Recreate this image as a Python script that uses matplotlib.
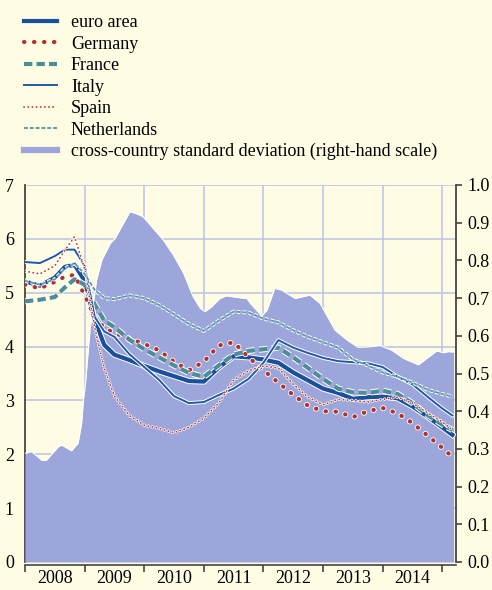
import matplotlib
matplotlib.use("Agg")
import matplotlib.pyplot as plt
import matplotlib.patheffects as pe
from matplotlib.lines import Line2D

# dates (decimal years) for the country yields
dates = [2008.0, 2008.25, 2008.5, 2008.67, 2008.83, 2009.0, 2009.17, 2009.33,
         2009.5, 2009.75, 2010.0, 2010.25, 2010.5, 2010.75, 2011.0, 2011.25,
         2011.5, 2011.75, 2012.0, 2012.25, 2012.5, 2012.75, 2013.0, 2013.25,
         2013.5, 2013.75, 2014.0, 2014.25, 2014.5, 2014.75, 2015.0, 2015.17]

euro_area = [5.21, 5.13, 5.28, 5.48, 5.52, 5.22, 4.49, 4.03,
             3.85, 3.75, 3.64, 3.54, 3.45, 3.36, 3.35, 3.61,
             3.82, 3.8, 3.76, 3.7, 3.52, 3.37, 3.22, 3.14,
             3.03, 3.06, 3.07, 3.04, 2.89, 2.7, 2.5, 2.36]
germany = [5.15, 5.08, 5.2, 5.3, 5.33, 4.95, 4.55, 4.35,
           4.25, 4.15, 4.05, 3.93, 3.72, 3.56, 3.72, 4.02,
           4.08, 3.8, 3.56, 3.33, 3.1, 2.9, 2.8, 2.79,
           2.69, 2.8, 2.86, 2.76, 2.58, 2.35, 2.12, 1.95]
france = [4.84, 4.87, 4.92, 5.1, 5.25, 5.15, 4.78, 4.48,
          4.36, 4.13, 3.95, 3.8, 3.65, 3.51, 3.44, 3.65,
          3.85, 3.92, 3.95, 3.98, 3.8, 3.6, 3.4, 3.22,
          3.15, 3.14, 3.18, 3.12, 2.95, 2.73, 2.55, 2.45]
italy = [5.57, 5.55, 5.68, 5.8, 5.8, 5.5, 4.55, 4.28,
         4.18, 3.86, 3.62, 3.38, 3.08, 2.95, 2.97, 3.1,
         3.22, 3.4, 3.7, 4.12, 3.98, 3.88, 3.79, 3.73,
         3.71, 3.69, 3.62, 3.44, 3.3, 3.07, 2.85, 2.72]
spain = [5.4, 5.35, 5.5, 5.79, 6.04, 5.44, 4.35, 3.6,
         3.08, 2.72, 2.54, 2.48, 2.4, 2.5, 2.67, 2.95,
         3.38, 3.55, 3.64, 3.6, 3.3, 3.06, 2.92, 3.02,
         3.0, 2.97, 3.02, 3.06, 2.95, 2.77, 2.6, 2.45]
netherlands = [5.22, 5.15, 5.25, 5.45, 5.55, 5.35, 5.05, 4.9,
               4.88, 4.95, 4.9, 4.77, 4.6, 4.42, 4.29, 4.48,
               4.65, 4.63, 4.52, 4.45, 4.3, 4.18, 4.08, 3.98,
               3.76, 3.65, 3.52, 3.44, 3.33, 3.2, 3.12, 3.07]

# cross-country standard deviation (right-hand scale)
sd_dates = [2008.0, 2008.11, 2008.28, 2008.36, 2008.56, 2008.62, 2008.78, 2008.89,
            2008.95, 2008.98, 2009.01, 2009.09, 2009.2, 2009.29, 2009.43, 2009.51,
            2009.65, 2009.76, 2009.85, 2009.98, 2010.15, 2010.32, 2010.49, 2010.66,
            2010.82, 2010.94, 2011.02, 2011.13, 2011.27, 2011.38, 2011.55, 2011.72,
            2011.78, 2011.97, 2012.06, 2012.19, 2012.31, 2012.53, 2012.78, 2012.95,
            2013.2, 2013.4, 2013.59, 2013.79, 2013.96, 2014.15, 2014.35, 2014.6,
            2014.74, 2014.91, 2015.02, 2015.1, 2015.19]
sd_values = [0.288, 0.293, 0.27, 0.27, 0.306, 0.31, 0.295, 0.315,
             0.368, 0.43, 0.465, 0.615, 0.748, 0.801, 0.845, 0.858,
             0.898, 0.929, 0.925, 0.916, 0.885, 0.854, 0.814, 0.766,
             0.704, 0.673, 0.664, 0.677, 0.699, 0.706, 0.702, 0.699,
             0.686, 0.653, 0.668, 0.726, 0.721, 0.699, 0.708, 0.686,
             0.615, 0.589, 0.569, 0.571, 0.574, 0.562, 0.54, 0.523,
             0.54, 0.56, 0.555, 0.558, 0.557]

years = [2008, 2009, 2010, 2011, 2012, 2013, 2014, 2015]
year_labels = ["2008", "2009", "2010", "2011", "2012", "2013", "2014"]

BG = "#fefde3"
FILL = "#9ca6da"
GRID = "#bcc2e8"
AXC = "#444444"

plt.rcParams["font.family"] = ["Liberation Serif", "DejaVu Serif"]
plt.rcParams["font.size"] = 13

fig = plt.figure(figsize=(4.92, 5.90), dpi=100, facecolor=BG)
pos = [25 / 492, 1 - 562 / 590, 431 / 492, 377 / 590]
ax = fig.add_axes(pos)
ax.set_facecolor(BG)

# grid on the base axes
ax.set_xlim(2008, 2015.23)
ax.set_ylim(0, 7)
for y in range(1, 8):
    ax.axhline(y, color=GRID, lw=1.1, zorder=0)
for yr in years[1:]:
    ax.axvline(yr, color=GRID, lw=1.1, zorder=0)

ax.set_yticks(range(0, 8))
ax.tick_params(axis="y", length=0, pad=8, colors="black")
ax.set_xticks(years)
ax.set_xticklabels([])
ax.set_xticks([y + 0.5 for y in years[:-1]], minor=True)
ax.set_xticklabels(year_labels, minor=True)
ax.tick_params(axis="x", which="major", direction="out", length=5, width=1.2, color=AXC)
ax.tick_params(axis="x", which="minor", length=0, pad=4)
for s in ["top", "right"]:
    ax.spines[s].set_visible(False)
ax.spines["left"].set_color(AXC)
ax.spines["left"].set_linewidth(1.3)
ax.spines["bottom"].set_color(AXC)
ax.spines["bottom"].set_linewidth(1.2)
ax.spines["bottom"].set_position(("outward", 2))

# standard deviation area on the right-hand scale
ax_sd = ax.twinx()
ax_sd.set_ylim(0, 1.0)
ax_sd.fill_between(sd_dates, sd_values, 0, color=FILL, lw=0)
ax_sd.plot(sd_dates, sd_values, color="white", lw=0.8)
ax_sd.set_yticks([i / 10 for i in range(11)])
ax_sd.set_yticklabels([f"{i / 10:.1f}" for i in range(11)])
ax_sd.tick_params(axis="y", direction="out", length=4, width=1.2, color=AXC, pad=4)
for s in ["top", "left", "bottom"]:
    ax_sd.spines[s].set_visible(False)
ax_sd.spines["right"].set_color(AXC)
ax_sd.spines["right"].set_linewidth(1.3)

# country lines on top
ax_ln = ax.twinx()
ax_ln.set_ylim(0, 7)
ax_ln.set_yticks([])
for s in ax_ln.spines.values():
    s.set_visible(False)


def halo(w):
    return [pe.Stroke(linewidth=w, foreground="white"), pe.Normal()]


series = [
    ("euro area", euro_area, dict(color="#1a4f9c", lw=3.0, ls="-"), 4.4),
    ("Germany", germany, dict(color="#b5302a", lw=3.0, ls=(0, (0.1, 2.3)),
                              dash_capstyle="round"), 4.2),
    ("France", france, dict(color="#4e8c98", lw=3.0, ls=(0, (2, 1))), 4.4),
    ("Italy", italy, dict(color="#2258a8", lw=1.4, ls="-"), 2.8),
    ("Spain", spain, dict(color="#c0392b", lw=1.3, ls=(0, (0.1, 2.2)),
                          dash_capstyle="round"), 2.4),
    ("Netherlands", netherlands, dict(color="#5c9ba8", lw=1.4, ls=(0, (2, 1))), 2.8),
]

handles = []
for name, vals, style, hw in series:
    ax_ln.plot(dates, vals, path_effects=halo(hw), **style)
    handles.append(Line2D([], [], **style))
handles.append(Line2D([], [], color=FILL, lw=4.5))
labels = [s[0] for s in series] + ["cross-country standard deviation (right-hand scale)"]

fig.legend(handles, labels, loc="upper left", bbox_to_anchor=(24 / 492, 1 - 14 / 590),
           frameon=False, borderpad=0, borderaxespad=0, handlelength=1.8,
           handletextpad=0.8, labelspacing=0.25, fontsize=13)

fig.savefig("out.png", dpi=100, facecolor=BG)
